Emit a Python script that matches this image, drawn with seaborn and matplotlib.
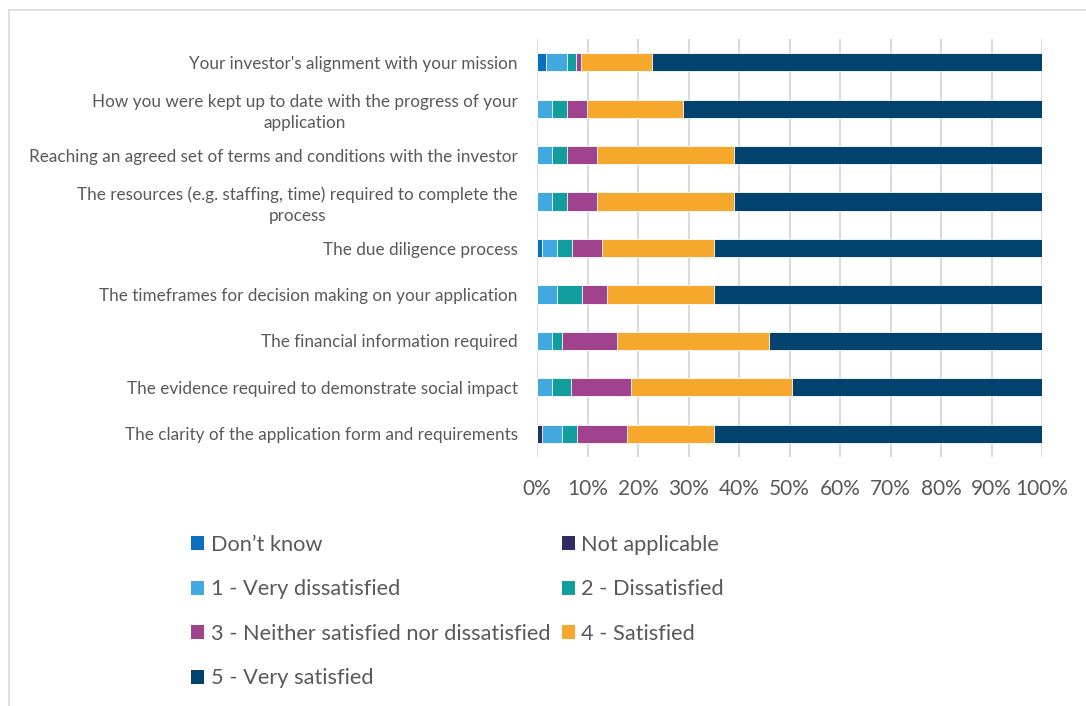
import matplotlib
matplotlib.use("Agg")
import matplotlib.pyplot as plt
from matplotlib.patches import Patch, Rectangle
import numpy as np
import pandas as pd
import seaborn as sns

# Survey items, top to bottom
items = [
    "Your investor's alignment with your mission",
    "How you were kept up to date with the progress of your\napplication",
    "Reaching an agreed set of terms and conditions with the investor",
    "The resources (e.g. staffing, time) required to complete the\nprocess",
    "The due diligence process",
    "The timeframes for decision making on your application",
    "The financial information required",
    "The evidence required to demonstrate social impact",
    "The clarity of the application form and requirements",
]

# Response shares (%) per item, one list per answer
dont_know      = [1.8, 0.0, 0.0, 0.0, 1.0, 0.0, 0.0, 0.0, 0.0]
not_applicable = [0.0, 0.0, 0.0, 0.0, 0.0, 0.0, 0.0, 0.0, 1.0]
very_dissat    = [4.2, 2.9, 2.9, 2.9, 2.9, 3.9, 2.9, 2.9, 4.0]
dissat         = [1.8, 3.0, 3.0, 3.0, 3.1, 5.1, 2.0, 3.9, 3.0]
neither        = [1.0, 4.0, 6.0, 6.0, 5.9, 4.9, 10.9, 11.9, 9.9]
satisfied      = [13.9, 19.1, 27.1, 27.1, 22.1, 21.1, 30.2, 31.7, 17.1]
very_sat       = [77.3, 71.0, 61.0, 61.0, 65.0, 65.0, 54.0, 49.6, 65.0]

series_names = [
    "Don\u2019t know",
    "Not applicable",
    "1 - Very dissatisfied",
    "2 - Dissatisfied",
    "3 - Neither satisfied nor dissatisfied",
    "4 - Satisfied",
    "5 - Very satisfied",
]
series_values = [dont_know, not_applicable, very_dissat, dissat, neither, satisfied, very_sat]
series_colors = ["#0A6FBE", "#2E2B65", "#42A9E0", "#129E9E", "#A1428F", "#F6A82C", "#01436E"]

sns.set_theme(style="white")
plt.rcParams["font.family"] = ["Lato", "DejaVu Sans"]
text_color = "#595959"

df = pd.DataFrame({"item": items})
cum = np.zeros(len(items))
cum_cols = []
for name, vals in zip(series_names, series_values):
    cum = cum + np.array(vals)
    df[name] = cum
    cum_cols.append(name)

fig = plt.figure(figsize=(10.86, 7.06), dpi=100)
ax = fig.add_axes([537 / 1086, 1 - 457 / 706, (1042 - 537) / 1086, (457 - 39) / 706])

# Stacked bars: draw cumulative totals from the outermost segment inward
for name, color in reversed(list(zip(cum_cols, series_colors))):
    sns.barplot(data=df, x=name, y="item", orient="h", color=color,
                width=0.39, errorbar=None, edgecolor="white", linewidth=0.6,
                saturation=1, ax=ax)

ax.set_xlim(0, 100)
ax.set_ylim(8.5, -0.5)
ax.set_xticks(np.arange(0, 101, 10))
ax.set_xticklabels([f"{v}%" for v in range(0, 101, 10)])
ax.set_xlabel("")
ax.set_ylabel("")
ax.grid(axis="x", color="#D9D9D9", linewidth=1.4)
ax.grid(axis="y", visible=False)
ax.set_axisbelow(True)
for s in ax.spines.values():
    s.set_visible(False)

ax.tick_params(axis="x", length=0, pad=16, labelsize=15, labelcolor=text_color)
ax.tick_params(axis="y", length=0, pad=14, labelsize=12.3, labelcolor=text_color)
for lbl in ax.get_yticklabels():
    lbl.set_multialignment("center")
    lbl.set_linespacing(1.35)

# Legend in two columns, read row by row
handles = [Patch(facecolor=c, edgecolor="none") for c in series_colors]
order = [0, 2, 4, 6, 1, 3, 5]
leg = fig.legend([handles[i] for i in order], [series_names[i] for i in order],
                 ncol=2, loc="upper left", bbox_to_anchor=(191 / 1086, 1 - 535 / 706),
                 frameon=False, fontsize=15.7, handlelength=0.6, handleheight=0.6,
                 handletextpad=0.3, labelspacing=1.12, columnspacing=0.53,
                 borderpad=0, borderaxespad=0, labelcolor=text_color)

# Light outer frame of the chart area
fig.add_artist(Rectangle((8.5 / 1086, -0.05), 1.2, (706 - 9.5) / 706 + 0.05,
                         transform=fig.transFigure, fill=False,
                         edgecolor="#D9D9D9", linewidth=1.2))

fig.savefig("out.png", dpi=100, facecolor="white")
